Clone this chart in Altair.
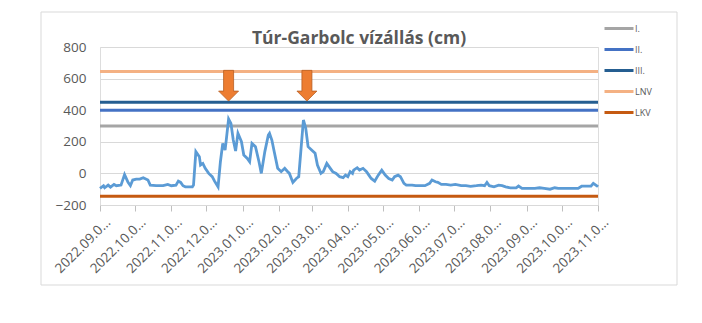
import altair as alt
import pandas as pd

# ---- water level series (cm) ----
dates = [
    "2022-09-01", "2022-09-04", "2022-09-05", "2022-09-08", "2022-09-10", "2022-09-13",
    "2022-09-15", "2022-09-19", "2022-09-22", "2022-09-25", "2022-09-27", "2022-09-29",
    "2022-10-02", "2022-10-05", "2022-10-08", "2022-10-12", "2022-10-14", "2022-10-19",
    "2022-10-25", "2022-10-29", "2022-11-01", "2022-11-05", "2022-11-07", "2022-11-09",
    "2022-11-11", "2022-11-13", "2022-11-19", "2022-11-20", "2022-11-22", "2022-11-25",
    "2022-11-26", "2022-11-28", "2022-11-30", "2022-12-03", "2022-12-06", "2022-12-08",
    "2022-12-11", "2022-12-13", "2022-12-15", "2022-12-17", "2022-12-18", "2022-12-20",
    "2022-12-22", "2022-12-24", "2022-12-26", "2022-12-28", "2022-12-31", "2023-01-02",
    "2023-01-05", "2023-01-07", "2023-01-09", "2023-01-12", "2023-01-15", "2023-01-17",
    "2023-01-20", "2023-01-23", "2023-01-24", "2023-01-26", "2023-01-28", "2023-01-31",
    "2023-02-03", "2023-02-06", "2023-02-08", "2023-02-10", "2023-02-13", "2023-02-16",
    "2023-02-18", "2023-02-20", "2023-02-22", "2023-02-24", "2023-02-26", "2023-03-01",
    "2023-03-04", "2023-03-06", "2023-03-09", "2023-03-11", "2023-03-14", "2023-03-17",
    "2023-03-19", "2023-03-22", "2023-03-25", "2023-03-28", "2023-03-30", "2023-04-01",
    "2023-04-03", "2023-04-05", "2023-04-06", "2023-04-09", "2023-04-11", "2023-04-14",
    "2023-04-17", "2023-04-19", "2023-04-21", "2023-04-24", "2023-04-27", "2023-04-30",
    "2023-05-03", "2023-05-06", "2023-05-09", "2023-05-11", "2023-05-14", "2023-05-16",
    "2023-05-19", "2023-05-21", "2023-05-26", "2023-05-29", "2023-06-02", "2023-06-06",
    "2023-06-10", "2023-06-12", "2023-06-15", "2023-06-17", "2023-06-20", "2023-06-24",
    "2023-06-28", "2023-07-02", "2023-07-07", "2023-07-11", "2023-07-15", "2023-07-20",
    "2023-07-24", "2023-07-27", "2023-07-29", "2023-07-31", "2023-08-04", "2023-08-08",
    "2023-08-11", "2023-08-14", "2023-08-18", "2023-08-23", "2023-08-25", "2023-08-28",
    "2023-09-02", "2023-09-08", "2023-09-12", "2023-09-16", "2023-09-21", "2023-09-25",
    "2023-09-28", "2023-10-02", "2023-10-06", "2023-10-11", "2023-10-15", "2023-10-18",
    "2023-10-22", "2023-10-26", "2023-10-28", "2023-10-31", "2023-11-01",
]
levels = [
    -95, -78, -91, -74, -87, -70,
    -78, -74, -8, -57, -78, -42,
    -36, -36, -27, -42, -74, -78,
    -78, -70, -78, -74, -49, -57,
    -78, -85, -85, -74, 138, 106,
    53, 63, 32, 0, -21, -49,
    -85, 74, 190, 148, 211, 345,
    317, 211, 142, 254, 201, 116,
    95, 74, 190, 169, 74, 0,
    138, 243, 254, 211, 138, 32,
    11, 32, 15, 0, -57, -32,
    -21, 159, 338, 286, 169, 148,
    127, 53, 0, 11, 63, 32,
    11, 0, -21, -27, -11, -21,
    11, 0, 21, 36, 21, 32,
    11, -11, -32, -49, -11, 21,
    -11, -32, -42, -21, -11, -21,
    -63, -74, -74, -78, -78, -78,
    -63, -42, -53, -57, -70, -70,
    -74, -70, -78, -78, -82, -78,
    -74, -78, -57, -78, -85, -74,
    -78, -85, -91, -91, -80, -95,
    -95, -95, -91, -95, -100, -91,
    -95, -95, -95, -95, -95, -81,
    -81, -81, -63, -78, -85,
]

# ---- threshold levels ----
level_names = ["I.", "II.", "III.", "LNV", "LKV"]
level_values = [300, 400, 450, 645, -145]
level_colors = ["#A5A5A5", "#4472C4", "#255E91", "#F4B183", "#C55A11"]

# ---- arrow markers ----
arrow_dates = ["2022-12-20", "2023-02-25"]
arrow_values = [555, 555]

# ---- axes ----
month_ticks = [(2022, m) for m in range(9, 13)] + [(2023, m) for m in range(1, 12)]
y_ticks = [-200, 0, 200, 400, 600, 800]
title_text = "Túr-Garbolc vízállás (cm)"

FONT = "Open Sans"
TXT = "#595959"

series = pd.DataFrame({"date": pd.to_datetime(dates), "level": levels})
thresholds = pd.DataFrame({"name": level_names, "value": level_values})
arrows = pd.DataFrame({"date": pd.to_datetime(arrow_dates), "value": arrow_values})

x_scale = alt.Scale(
    domain=[alt.DateTime(year=2022, month=9, date=1), alt.DateTime(year=2023, month=11, date=1)]
)
y_scale = alt.Scale(domain=[-200, 800], nice=False, zero=False)

x_axis = alt.Axis(
    values=[alt.DateTime(year=y, month=m, date=1) for y, m in month_ticks],
    labelExpr="timeFormat(datum.value, '%Y.%m.0') + '...'",
    labelAngle=-45, labelAlign="right", labelBaseline="middle",
    labelOffset=8, labelPadding=9, labelFontSize=13.5, labelFont=FONT, labelColor=TXT,
    labelOverlap=False, grid=False, domain=True, domainColor="#D9D9D9", domainWidth=1,
    ticks=True, tickColor="#BFBFBF", tickSize=6, title=None,
)
y_axis = alt.Axis(
    values=y_ticks, grid=True, gridColor="#D9D9D9", gridWidth=1, domain=False, ticks=False,
    labelPadding=14, labelFontSize=13.5, labelFont=FONT, labelColor=TXT, title=None,
)

frame = alt.Chart(alt.Data(values=[{"f": 1}])).mark_rect(
    fillOpacity=0, stroke="#D9D9D9", strokeWidth=1
).encode(
    x=alt.value(-59), x2=alt.value(577), y=alt.value(-35), y2=alt.value(238)
)

rules = alt.Chart(thresholds).mark_rule(strokeWidth=3).encode(
    y=alt.Y("value:Q", scale=y_scale, axis=y_axis),
    color=alt.Color(
        "name:N",
        scale=alt.Scale(domain=level_names, range=level_colors),
        legend=alt.Legend(
            title=None, orient="none", legendX=503, legendY=-28, padding=0,
            symbolType="stroke", symbolSize=841, symbolStrokeWidth=3,
            clipHeight=19, rowPadding=2, labelOffset=0,
            labelFontSize=9, labelFont=FONT, labelColor=TXT,
        ),
    ),
)

line = alt.Chart(series).mark_line(color="#5B9BD5", strokeWidth=2.8).encode(
    x=alt.X("date:T", scale=x_scale, axis=x_axis),
    y=alt.Y("level:Q", scale=y_scale, axis=y_axis),
)

arrow_path = "M-0.326,-1L0.326,-1L0.326,0.35L0.65,0.35L0,1L-0.65,0.35L-0.326,0.35Z"
arrow_marks = alt.Chart(arrows).mark_point(
    shape=arrow_path, size=943, filled=True, fill="#ED7D31", stroke="#B85E22",
    strokeWidth=0.8, opacity=1,
).encode(
    x=alt.X("date:T", scale=x_scale, axis=x_axis),
    y=alt.Y("value:Q", scale=y_scale, axis=y_axis),
)

chart = alt.layer(frame, rules, line, arrow_marks).properties(
    width=498,
    height=158,
    title=alt.TitleParams(
        text=title_text, font=FONT, fontSize=17.5, fontWeight="bold", color=TXT,
        anchor="middle", dx=10, dy=36, offset=0,
    ),
    autosize=alt.AutoSizeParams(type="none"),
    padding={"left": 100, "top": 47, "right": 104, "bottom": 118},
).configure_view(stroke="transparent").configure(background="white")

chart.save("out.html", embed_options={"renderer": "svg", "actions": False})
